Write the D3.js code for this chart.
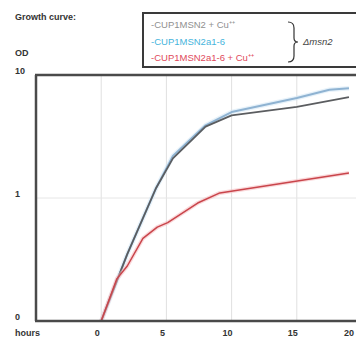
<!DOCTYPE html>
<html>
<head>
<meta charset="utf-8">
<script src="https://cdn.jsdelivr.net/npm/d3@7"></script>
<style>
  body { margin: 0; background: #fff; }
  svg { display: block; }
  text { font-family: "Liberation Sans", Arial, sans-serif; }
</style>
</head>
<body>
<svg id="chart" width="356" height="343"></svg>
<script>
// growth curves, OD
var greyHours = [0, 2, 4.2, 5.5, 7, 8, 10, 15, 19];
var greyOD    = [0.1, 0.35, 1.2, 2.1, 3.0, 3.8, 4.7, 5.5, 6.6];

var blueHours = [0, 2, 4.2, 5.5, 7, 8, 10, 15, 17.5, 19];
var blueOD    = [0.1, 0.35, 1.2, 2.2, 3.1, 3.9, 5.0, 6.5, 7.6, 7.8];

var redHours = [0, 1.2, 2, 3.2, 4.3, 5.1, 7.4, 9.1, 19];
var redOD    = [0.1, 0.22, 0.28, 0.47, 0.58, 0.63, 0.91, 1.1, 1.6];

var xTicks = [0, 5, 10, 15, 20];
var yTicks = [0.1, 1, 10];
var yTickLabels = ["0", "1", "10"];

var legendLabels = ["-CUP1MSN2 + Cu\u207A\u207A", "-CUP1MSN2a1-6", "-CUP1MSN2a1-6 + Cu\u207A\u207A"];
var legendColors = ["#909090", "#45b4dc", "#e0485a"];

var svg = d3.select("#chart");

var x = d3.scaleLinear().domain([-5, 20]).range([36, 362]);
var y = d3.scaleLog().domain([0.1, 10]).range([321, 75]);

// grid
svg.append("g").selectAll("line")
  .data([0, 5, 10, 15])
  .enter().append("line")
  .attr("x1", function(d) { return x(d); })
  .attr("x2", function(d) { return x(d); })
  .attr("y1", y(10)).attr("y2", y(0.1))
  .attr("stroke", "#e0e0e0").attr("stroke-width", 1);

svg.append("line")
  .attr("x1", x(-5)).attr("x2", 356)
  .attr("y1", y(1)).attr("y2", y(1))
  .attr("stroke", "#e6e6e6").attr("stroke-width", 1);

// lines
var line = d3.line()
  .x(function(d) { return x(d[0]); })
  .y(function(d) { return y(d[1]); });

function draw(hours, od, color, w, halo) {
  var pts = d3.zip(hours, od);
  if (halo) {
    svg.append("path").datum(pts)
      .attr("d", line).attr("fill", "none")
      .attr("stroke", halo).attr("stroke-width", w + 2.5)
      .attr("stroke-linejoin", "round").attr("opacity", 0.5);
  }
  svg.append("path").datum(pts)
    .attr("d", line).attr("fill", "none")
    .attr("stroke", color).attr("stroke-width", w)
    .attr("stroke-linejoin", "round");
}

draw(blueHours, blueOD, "#8fb3d2", 2, "#cfe6f5");
draw(greyHours, greyOD, "#5b5d60", 1.8, null);
draw(redHours, redOD, "#c9454b", 1.5, "#f6b3b8");

// frame: left, top, bottom
var frame = svg.append("g").attr("stroke", "#4a4a4a").attr("stroke-width", 2.5);
frame.append("line").attr("x1", x(-5)).attr("x2", x(-5)).attr("y1", y(10)).attr("y2", y(0.1));
frame.append("line").attr("x1", x(-5) - 1).attr("x2", 356).attr("y1", y(10)).attr("y2", y(10));
frame.append("line").attr("x1", x(-5) - 1).attr("x2", 356).attr("y1", y(0.1)).attr("y2", y(0.1));

// tick labels
svg.append("g").selectAll("text")
  .data(xTicks)
  .enter().append("text")
  .attr("x", function(d) { return Math.min(x(d) - 4, 349); })
  .attr("y", 336)
  .attr("text-anchor", "middle")
  .attr("font-size", 9).attr("font-weight", "bold").attr("fill", "#333")
  .text(function(d) { return d; });

svg.append("g").selectAll("text")
  .data(yTicks)
  .enter().append("text")
  .attr("x", 15)
  .attr("y", function(d) { return y(d) - 1; })
  .attr("font-size", 9).attr("font-weight", "bold").attr("fill", "#333")
  .text(function(d, i) { return yTickLabels[i]; });

svg.append("text").attr("x", 15).attr("y", 336)
  .attr("font-size", 9).attr("font-weight", "bold").attr("fill", "#333")
  .text("hours");

svg.append("text").attr("x", 15).attr("y", 56)
  .attr("font-size", 9).attr("font-weight", "bold").attr("fill", "#333")
  .text("OD");

svg.append("text").attr("x", 15).attr("y", 20)
  .attr("font-size", 9).attr("font-weight", "bold").attr("fill", "#333")
  .text("Growth curve:");

// legend box
svg.append("rect")
  .attr("x", 143).attr("y", 13).attr("width", 230).attr("height", 54)
  .attr("fill", "#fff").attr("stroke", "#3a3a3a").attr("stroke-width", 2);

svg.append("g").selectAll("text")
  .data(legendLabels)
  .enter().append("text")
  .attr("x", 151)
  .attr("y", function(d, i) { return 28 + i * 16.5; })
  .attr("font-size", 9.5)
  .attr("fill", function(d, i) { return legendColors[i]; })
  .text(function(d) { return d; });

svg.append("path")
  .attr("d", "M288,22 Q294,22 294,28 L294,38 Q294,42 298,42 Q294,42 294,46 L294,56 Q294,62 288,62")
  .attr("fill", "none").attr("stroke", "#333").attr("stroke-width", 1.2);

svg.append("text").attr("x", 303).attr("y", 45)
  .attr("font-size", 9.5).attr("font-style", "italic").attr("fill", "#444")
  .text("\u0394msn2");
</script>
</body>
</html>
